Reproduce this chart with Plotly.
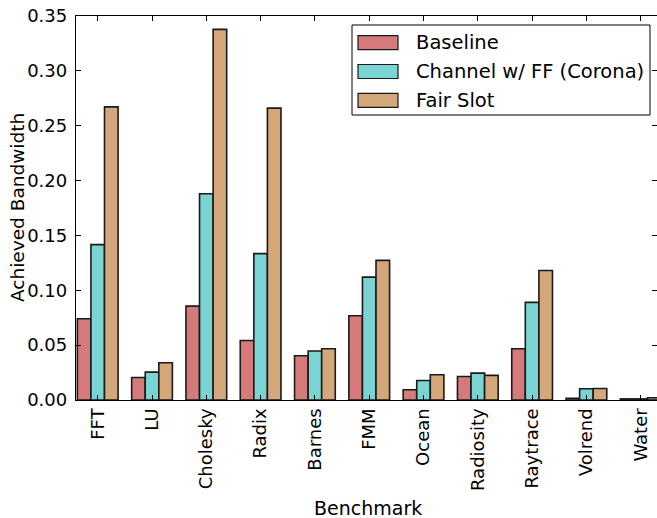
import plotly.graph_objects as go

benchmarks = ["FFT", "LU", "Cholesky", "Radix", "Barnes", "FMM", "Ocean",
              "Radiosity", "Raytrace", "Volrend", "Water"]
baseline = [0.0741, 0.0205, 0.0856, 0.0543, 0.0403, 0.0768, 0.0093,
            0.0214, 0.0467, 0.0016, 0.0010]
channel_ff = [0.1416, 0.0254, 0.1880, 0.1334, 0.0447, 0.1120, 0.0178,
              0.0245, 0.0890, 0.0102, 0.0010]
fair_slot = [0.2672, 0.0340, 0.3378, 0.2660, 0.0467, 0.1273, 0.0230,
             0.0224, 0.1180, 0.0105, 0.0020]
series_names = ["Baseline", "Channel w/ FF (Corona)", "Fair Slot"]
series_colors = ["#d47a7a", "#7ad4d4", "#d4a77a"]
y_ticks = [0.00, 0.05, 0.10, 0.15, 0.20, 0.25, 0.30, 0.35]

W, H = 657, 518
ML, MT, MB, MR = 76, 16, 118, 0
FONT = "DejaVu Sans"

fig = go.Figure()
xs = list(range(len(benchmarks)))
for name, vals, col in zip(series_names, [baseline, channel_ff, fair_slot], series_colors):
    fig.add_trace(go.Bar(
        x=xs, y=vals, name=name, width=0.25,
        marker=dict(color=col, line=dict(color="#1a1a1a", width=1.6)),
        showlegend=False,
    ))

# invisible trace that carries the right-hand tick axis
fig.add_trace(go.Scatter(x=[0], y=[0], yaxis="y2", mode="markers",
                         marker=dict(opacity=0), showlegend=False, hoverinfo="skip"))

fig.update_layout(
    width=W, height=H,
    margin=dict(l=ML, r=MR, t=MT, b=MB, pad=0),
    paper_bgcolor="white", plot_bgcolor="white",
    font=dict(family=FONT, size=18, color="black"),
    barmode="group", bargap=0.25, bargroupgap=0,
    xaxis=dict(
        range=[-0.40, 10.30], tickvals=xs, ticktext=benchmarks, tickangle=-90,
        ticks="inside", ticklen=5, tickwidth=1, tickcolor="black",
        showline=True, linecolor="black", linewidth=1.3, mirror="ticks",
        showgrid=False, zeroline=False, tickfont=dict(size=18),
    ),
    yaxis=dict(
        range=[0, 0.35], tickvals=y_ticks, tickformat=".2f",
        ticks="inside", ticklen=5, tickwidth=1, tickcolor="black",
        showline=True, linecolor="black", linewidth=1.3,
        showgrid=False, zeroline=False, tickfont=dict(size=18),
        ticklabelstandoff=4,
    ),
    yaxis2=dict(
        overlaying="y", side="right", range=[0, 0.35], tickvals=y_ticks,
        ticks="inside", ticklen=5, tickwidth=1, tickcolor="black",
        showticklabels=False, showline=False, showgrid=False, zeroline=False,
    ),
    showlegend=False,
)

pw = W - ML - MR
ph = H - MT - MB

def px_x(x):
    return (x - ML) / pw

def px_y(y):
    return 1 - (y - MT) / ph

# axis titles
fig.add_annotation(text="Benchmark", xref="paper", yref="paper",
                   x=px_x(368), y=px_y(508), showarrow=False,
                   font=dict(size=19), xanchor="center", yanchor="middle")
fig.add_annotation(text="Achieved Bandwidth", xref="paper", yref="paper",
                   x=px_x(17), y=px_y(208), showarrow=False, textangle=-90,
                   font=dict(size=18.5), xanchor="center", yanchor="middle")

# legend box
fig.add_shape(type="rect", xref="paper", yref="paper",
              x0=px_x(352), x1=px_x(650), y0=px_y(115), y1=px_y(25),
              line=dict(color="black", width=1), fillcolor="white", layer="above")
for i, (name, col) in enumerate(zip(series_names, series_colors)):
    yc = 42.7 + i * 28.8
    fig.add_shape(type="rect", xref="paper", yref="paper",
                  x0=px_x(358), x1=px_x(398), y0=px_y(yc + 7), y1=px_y(yc - 7),
                  line=dict(color="#1a1a1a", width=1.2), fillcolor=col, layer="above")
    fig.add_annotation(text=name, xref="paper", yref="paper",
                       x=px_x(414), y=px_y(yc), showarrow=False,
                       xanchor="left", yanchor="middle", font=dict(size=19.5))

fig.write_html("out.html")
